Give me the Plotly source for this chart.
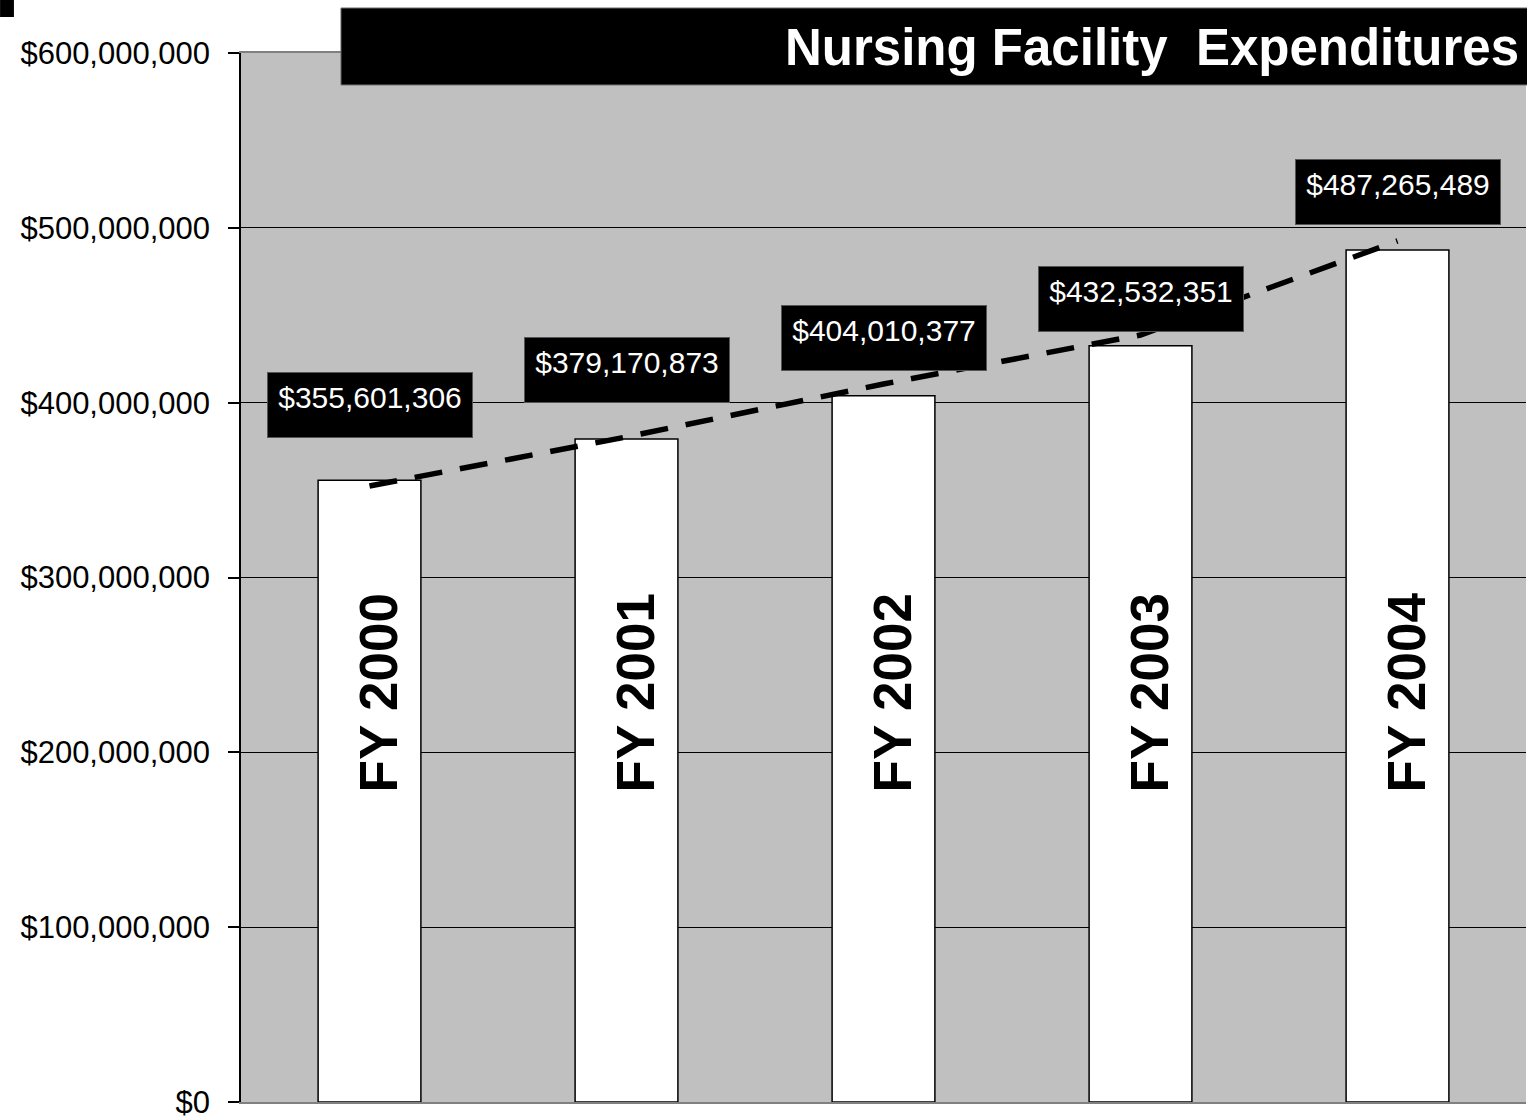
import plotly.graph_objects as go

# ---- data ----
categories = ["FY 2000", "FY 2001", "FY 2002", "FY 2003", "FY 2004"]
expenditures = [355601306, 379170873, 404010377, 432532351, 487265489]
value_labels = ["$355,601,306", "$379,170,873", "$404,010,377", "$432,532,351", "$487,265,489"]
trend_values = [352300000, 380400000, 410700000, 438700000, 492500000]
y_ticks = [0, 100000000, 200000000, 300000000, 400000000, 500000000, 600000000]
y_tick_labels = ["$0", "$100,000,000", "$200,000,000", "$300,000,000",
                 "$400,000,000", "$500,000,000", "$600,000,000"]

# ---- styling (pixel offsets of label boxes above bar tops) ----
label_shift = [42, 36, 25, 14, 25]

fig = go.Figure()
fig.add_trace(go.Bar(
    x=categories, y=expenditures,
    marker=dict(color="white", line=dict(color="black", width=1.5)),
    width=0.4, hoverinfo="skip", showlegend=False,
))
fig.add_trace(go.Scatter(
    x=categories, y=trend_values, mode="lines",
    line=dict(color="black", width=5.5, dash="28px,18px"),
    hoverinfo="skip", showlegend=False,
))

annotations = []
for cat, val, lab, sh in zip(categories, expenditures, value_labels, label_shift):
    annotations.append(dict(
        x=cat, y=val, xref="x", yref="y", text=lab, showarrow=False,
        xanchor="center", yanchor="bottom", yshift=sh,
        font=dict(family="Liberation Sans, Arial", size=30, color="white"),
        bgcolor="black", bordercolor="#555555", borderwidth=1, borderpad=8,
        width=188, height=48, valign="top", align="center",
    ))
    annotations.append(dict(
        x=cat, y=0.39, xref="x", yref="paper", text=cat, showarrow=False,
        textangle=-90, xanchor="center", yanchor="middle", xshift=9,
        font=dict(family="Liberation Sans, Arial", size=53, color="black", weight="bold"),
    ))

annotations.append(dict(
    x=0.9961, y=1.0057, xref="paper", yref="paper",
    text="<b>Nursing Facility  Expenditures</b>", showarrow=False,
    xanchor="right", yanchor="middle",
    font=dict(family="Liberation Sans, Arial", size=51, color="white"),
))

shapes = [
    dict(type="rect", xref="paper", yref="paper", x0=0.0778, x1=1.01, y0=0.9695, y1=1.0429,
         fillcolor="black", line=dict(color="#707070", width=1), layer="above"),
    dict(type="rect", xref="paper", yref="paper", x0=-0.1875, x1=-0.1767, y0=1.0343, y1=1.06,
         fillcolor="black", line=dict(width=0), layer="above"),
]

fig.update_layout(
    width=1527, height=1120,
    margin=dict(l=241, r=1, t=53, b=18),
    paper_bgcolor="white", plot_bgcolor="#C0C0C0",
    bargap=0.6,
    annotations=annotations, shapes=shapes,
    xaxis=dict(range=[-0.5, 4.5], showticklabels=False, ticks="", showgrid=False,
               showline=True, linecolor="#808080", linewidth=1.5, mirror=True, zeroline=False),
    yaxis=dict(range=[0, 600000000], tickvals=y_ticks, ticktext=y_tick_labels,
               showgrid=True, gridcolor="black", gridwidth=1.2,
               showline=True, linecolor="black", linewidth=1.5,
               ticks="outside", ticklen=11, tickcolor="black", tickwidth=1.5,
               ticklabelstandoff=12, zeroline=False,
               tickfont=dict(family="Liberation Sans, Arial", size=31, color="black")),
)

fig.write_html("out.html", config={"displayModeBar": False},
               post_script="document.body.style.margin='0';")
